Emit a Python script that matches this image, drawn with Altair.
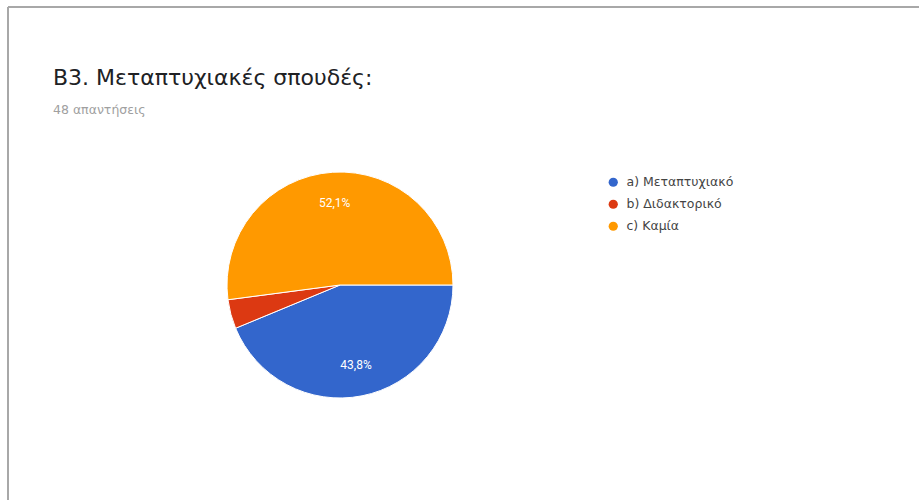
import altair as alt
import pandas as pd

# Data
categories = ["a) Μεταπτυχιακό", "b) Διδακτορικό", "c) Καμία"]
counts = [21, 2, 25]
colors = ["#3366cc", "#dc3912", "#ff9900"]
order = [0, 1, 2]

total = sum(counts)
pct = [c / total * 100 for c in counts]
labels = [f"{p:.1f}".replace(".", ",") + "%" if p >= 5 else "" for p in pct]

df = pd.DataFrame({
    "category": categories,
    "count": counts,
    "order": order,
    "label": labels,
})

CX, CY, R = 332, 278, 113
PI = 3.141592653589793

theta_enc = alt.Theta("count:Q", stack=True,
                      scale=alt.Scale(range=[PI / 2, PI / 2 + 2 * PI]))
color_enc = alt.Color(
    "category:N",
    scale=alt.Scale(domain=categories, range=colors),
    legend=alt.Legend(
        title=None,
        orient="none",
        legendX=599,
        legendY=169,
        symbolType="circle",
        symbolSize=85,
        symbolStrokeWidth=0,
        labelFontSize=12.5,
        labelFont="DejaVu Sans",
        labelColor="#444444",
        labelOffset=7,
        rowPadding=9,
    ),
)

base = alt.Chart(df)

pie = base.mark_arc(outerRadius=R, stroke="white", strokeWidth=1).encode(
    theta=theta_enc,
    color=color_enc,
    order=alt.Order("order:Q"),
    x=alt.value(CX),
    y=alt.value(CY),
)

text = base.mark_text(radius=82, fontSize=12, font="Roboto", color="white").encode(
    theta=theta_enc,
    text="label:N",
    order=alt.Order("order:Q"),
    x=alt.value(CX),
    y=alt.value(CY),
)

border_left = alt.Chart(df).mark_rule(color="#a8a8a8", strokeWidth=2).encode(
    x=alt.value(0), y=alt.value(0), y2=alt.value(493)
)
border_top = alt.Chart(df).mark_rule(color="#a8a8a8", strokeWidth=2).encode(
    x=alt.value(0), x2=alt.value(911), y=alt.value(0)
)

chart = alt.layer(border_left, border_top, pie, text).properties(
    width=911,
    height=493,
    padding={"left": 8, "top": 7, "right": 0, "bottom": 0},
    autosize=alt.AutoSizeParams(type="none"),
    title=alt.TitleParams(
        text="B3. Μεταπτυχιακές σπουδές:",
        subtitle="48 απαντήσεις",
        anchor="start",
        orient="top",
        frame="group",
        font="DejaVu Sans",
        fontSize=22,
        fontWeight="normal",
        color="#202124",
        subtitleFont="DejaVu Sans",
        subtitleFontSize=12.5,
        subtitleColor="#a0a0a0",
        subtitlePadding=14,
        offset=-111,
        dx=45,
    ),
).configure_view(stroke=None).configure(background="white")

chart.save("out.html", embed_options={"renderer": "svg", "actions": False})
